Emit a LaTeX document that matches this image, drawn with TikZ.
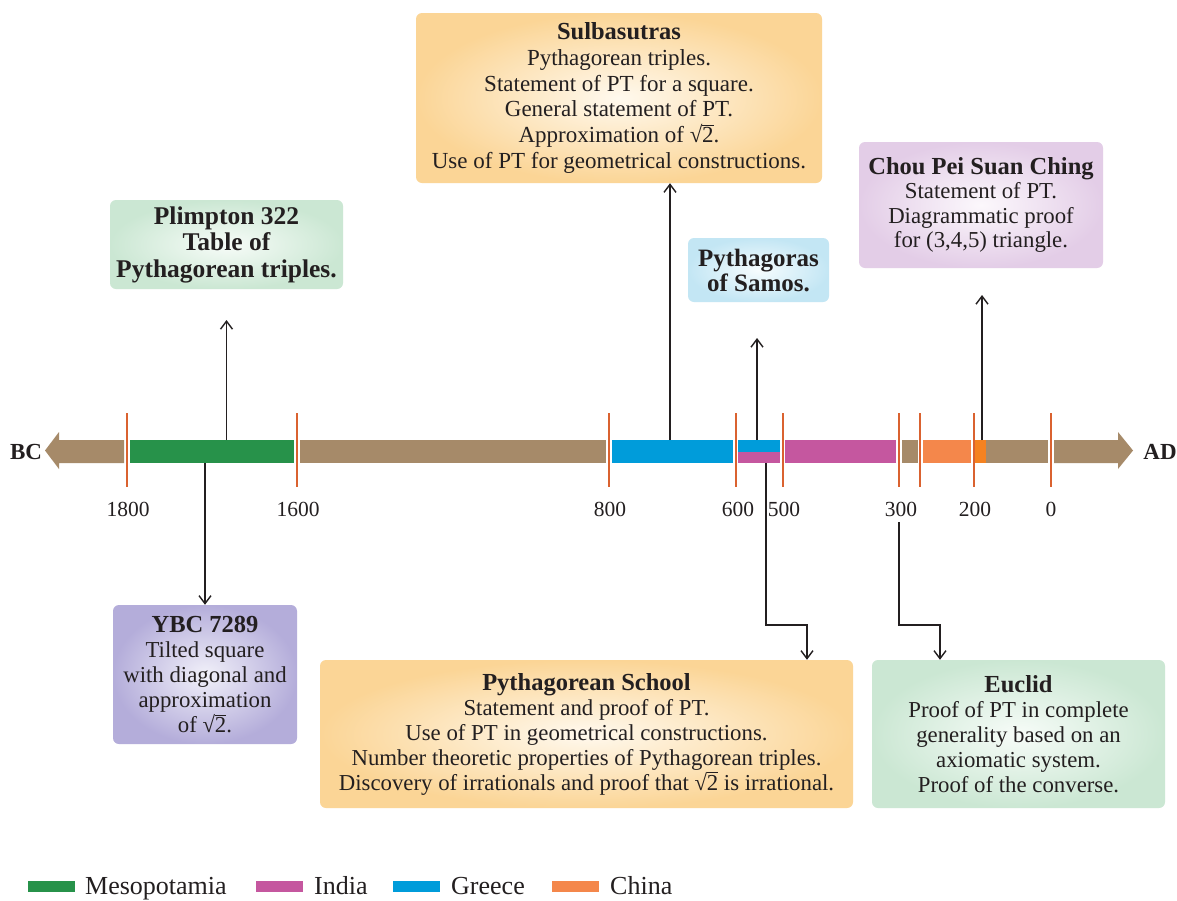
\documentclass[tikz,border=0pt]{standalone}
\usepackage{fontspec}
\setmainfont{Liberation Serif}
\usetikzlibrary{arrows.meta}
\definecolor{barbrown}{HTML}{A68A69}
\definecolor{meso}{HTML}{27924A}
\definecolor{india}{HTML}{C5579F}
\definecolor{greece}{HTML}{009CDA}
\definecolor{china}{HTML}{F4874B}
\definecolor{chinadark}{HTML}{F58220}
\definecolor{tickred}{HTML}{DA6230}
\definecolor{ink}{HTML}{231F20}
\definecolor{gEdge}{HTML}{CBE7D3}
\definecolor{gIn}{HTML}{F7FCF8}
\definecolor{pEdge}{HTML}{B4ADDA}
\definecolor{pIn}{HTML}{F1F0F9}
\definecolor{oEdge}{HTML}{FBD596}
\definecolor{oIn}{HTML}{FFF9EE}
\definecolor{lEdge}{HTML}{E3CDE7}
\definecolor{lIn}{HTML}{FCF8FC}
\definecolor{bEdge}{HTML}{C3E6F4}
\definecolor{bIn}{HTML}{F6FCFE}
\tikzset{
  seg/.style={draw=none, anchor=north west, inner sep=0pt, outer sep=0pt, minimum height=23pt},
  tickmark/.style={draw=tickred, line width=2.2pt},
  yearlabel/.style={text=ink, font=\fontsize{21.5}{24}\selectfont, inner sep=0pt},
  era/.style={text=ink, font=\bfseries\fontsize{23}{26}\selectfont, inner sep=0pt},
  infobox/.style={rounded corners=6pt, shading=radial, align=center, inner sep=0pt, text=ink,
    font=\fontsize{22.8}{25}\selectfont},
  greenbox/.style={infobox, inner color=gIn, outer color=gEdge},
  purplebox/.style={infobox, inner color=pIn, outer color=pEdge},
  orangebox/.style={infobox, inner color=oIn, outer color=oEdge},
  lilacbox/.style={infobox, inner color=lIn, outer color=lEdge},
  bluebox/.style={infobox, inner color=bIn, outer color=bEdge},
  conn/.style={draw=ink, line width=1.2pt, -{Straight Barb[length=8pt,width=12pt,line width=1.4pt]}},
  legendkey/.style={draw=none, inner sep=0pt, minimum width=47pt, minimum height=11pt},
  legendtext/.style={text=ink, font=\fontsize{26}{28}\selectfont, anchor=base west, inner sep=0pt}
}
\newcommand{\ttlfont}{\bfseries\fontsize{24.5}{25}\selectfont}
\newsavebox{\twobox}
\newcommand{\rtwo}{\sbox{\twobox}{2}\smash{√\kern-0.3pt\rlap{\rule[\dimexpr\ht\twobox+1.6pt\relax]{\wd\twobox}{0.9pt}}2}}
\begin{document}
\begin{tikzpicture}[x=1pt,y=-1pt]
\useasboundingbox[fill=white] (0,0) rectangle (1177,900);

% ---------- time bar ----------
\fill[barbrown] (45,450.5) -- (59,432) -- (59,440) -- (124,440) -- (124,463) -- (59,463) -- (59,469) -- cycle;
\node[seg, fill=meso, minimum width=164pt] (meso1) at (130,440) {};
\node[seg, fill=barbrown, minimum width=306pt] (br1) at (300,440) {};
\node[seg, fill=greece, minimum width=121pt] (gr1) at (612,440) {};
\node[seg, fill=greece, minimum width=42pt, minimum height=11.5pt] (gr2) at (738,440) {};
\node[seg, fill=india, minimum width=42pt, minimum height=11.5pt] (in1) at (738,451.5) {};
\node[seg, fill=india, minimum width=111pt] (in2) at (785,440) {};
\node[seg, fill=barbrown, minimum width=16pt] (br2) at (902,440) {};
\node[seg, fill=china, minimum width=48pt] (ch1) at (923,440) {};
\node[seg, fill=chinadark, minimum width=11pt] (ch2) at (975,440) {};
\node[seg, fill=barbrown, minimum width=62pt] (br3) at (986,440) {};
\fill[barbrown] (1054,440) -- (1118,440) -- (1118,432) -- (1133,450.5) -- (1118,469) -- (1118,463) -- (1054,463) -- cycle;

\node[era] (bc) at (26,452) {BC};
\node[era] (ad) at (1160,452) {AD};

% ticks
\foreach \x in {127,297,609,736,783,899,920,974,1051}
  \draw[tickmark] (\x,413) -- (\x,487);

% year labels
\node[yearlabel] (y1800) at (128,509) {1800};
\node[yearlabel] (y1600) at (298,509) {1600};
\node[yearlabel] (y800) at (610,509) {800};
\node[yearlabel] (y600) at (738,509) {600};
\node[yearlabel] (y500) at (784,509) {500};
\node[yearlabel] (y300) at (901,509) {300};
\node[yearlabel] (y200) at (975,509) {200};
\node[yearlabel] (y0) at (1051,509) {0};

% ---------- boxes ----------
\node[greenbox, minimum width=233pt, minimum height=89pt, font=\bfseries\fontsize{25.5}{26.5}\selectfont] (plimpton) at (226.5,244.5)
  {Plimpton 322\\Table of\\Pythagorean triples.};
\node[purplebox, minimum width=184pt, minimum height=139pt] (ybc) at (205,674.5)
  {{\ttlfont YBC 7289}\\Tilted square\\with diagonal and\\approximation\\of \rtwo.};
\node[orangebox, minimum width=406pt, minimum height=170pt, font=\fontsize{23}{25.8}\selectfont] (sulba) at (619,98)
  {{\ttlfont Sulbasutras}\\Pythagorean triples.\\Statement of PT for a square.\\General statement of PT.\\Approximation of \rtwo.\\Use of PT for geometrical constructions.};
\node[bluebox, minimum width=141pt, minimum height=64pt, font=\bfseries\fontsize{25}{25}\selectfont] (pyth) at (758.5,270)
  {Pythagoras\\of Samos.};
\node[lilacbox, minimum width=244pt, minimum height=126pt, font=\fontsize{22.8}{24.5}\selectfont] (chou) at (981,205)
  {{\ttlfont Chou Pei Suan Ching}\\Statement of PT.\\Diagrammatic proof\\for (3,4,5) triangle.};
\node[orangebox, minimum width=533pt, minimum height=148pt] (school) at (586.5,734)
  {{\ttlfont Pythagorean School}\\Statement and proof of PT.\\Use of PT in geometrical constructions.\\Number theoretic properties of Pythagorean triples.\\Discovery of irrationals and proof that \rtwo\ is irrational.};
\node[greenbox, minimum width=293pt, minimum height=148pt] (euclid) at (1018.5,734)
  {{\ttlfont Euclid}\\Proof of PT in complete\\generality based on an\\axiomatic system.\\Proof of the converse.};

% ---------- connectors ----------
\coordinate (plimptonTip) at (226.5,320);
\coordinate (pythTip) at (757,338);
\coordinate (chouTip) at (982,295);
\coordinate (sulbaX) at (670,0);
\coordinate (schoolX) at (766,0);
\coordinate (schoolBend) at (807,625);
\coordinate (euclidStart) at (899,522);
\coordinate (euclidBend) at (940,625);

\draw[conn] (meso1.north -| plimptonTip) -- (plimptonTip);
\draw[conn] (meso1.south -| ybc.north) -- (ybc.north);
\draw[conn] (gr1.north -| sulbaX) -- (sulba.south -| sulbaX);
\draw[conn] (gr2.north -| pythTip) -- (pythTip);
\draw[conn] (ch2.north -| chouTip) -- (chouTip);
\draw[conn] (in1.south -| schoolX) -- (schoolX |- schoolBend) -- (schoolBend) -- (school.north -| schoolBend);
\draw[conn] (euclidStart) -- (euclidStart |- euclidBend) -- (euclidBend) -- (euclid.north -| euclidBend);

% ---------- legend ----------
\node[legendkey, fill=meso] (kmeso) at (51.5,886) {};
\node[legendtext] (tmeso) at (85,894) {Mesopotamia};
\node[legendkey, fill=india] (kindia) at (279.5,886) {};
\node[legendtext] (tindia) at (314,894) {India};
\node[legendkey, fill=greece] (kgreece) at (416.5,886) {};
\node[legendtext] (tgreece) at (451,894) {Greece};
\node[legendkey, fill=china] (kchina) at (575.5,886) {};
\node[legendtext] (tchina) at (610,894) {China};
\end{tikzpicture}
\end{document}
